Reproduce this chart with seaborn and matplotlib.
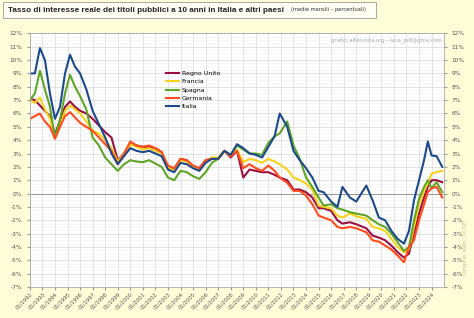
import numpy as np
import pandas as pd
import seaborn as sns
import matplotlib.pyplot as plt
from matplotlib.patches import Rectangle
from matplotlib.ticker import MultipleLocator, FuncFormatter

# dates as decimal years
dates = [1992.0, 1992.4, 1992.8, 1993.2, 1993.6, 1994.0, 1994.4, 1994.8, 1995.2, 1995.6,
         1996.0, 1996.5, 1997.0, 1997.5, 1998.0, 1998.5, 1999.0, 1999.5, 2000.0, 2000.5,
         2001.0, 2001.5, 2002.0, 2002.5, 2003.0, 2003.5, 2004.0, 2004.5, 2005.0, 2005.5,
         2006.0, 2006.5, 2007.0, 2007.5, 2008.0, 2008.5, 2009.0, 2009.5, 2010.0, 2010.5,
         2011.0, 2011.5, 2011.9, 2012.5, 2013.0, 2013.5, 2014.0, 2014.5, 2015.0, 2015.4,
         2016.0, 2016.5, 2016.9, 2017.5, 2018.0, 2018.8, 2019.3, 2019.8, 2020.3, 2020.8,
         2021.3, 2021.8, 2022.2, 2022.6, 2023.0, 2023.4, 2023.7, 2024.0, 2024.4, 2024.85]

regno_unito = [7.1, 7.0, 6.6, 6.2, 5.8, 4.4, 5.5, 6.5, 6.9, 6.5,
               6.2, 6.0, 5.6, 5.1, 4.6, 4.2, 2.5, 3.0, 3.7, 3.6,
               3.5, 3.5, 3.4, 3.1, 1.9, 1.8, 2.6, 2.5, 2.0, 1.9,
               2.5, 2.6, 2.6, 3.2, 2.7, 3.2, 1.2, 1.8, 1.7, 1.6,
               1.6, 1.4, 1.2, 1.0, 0.3, 0.3, 0.1, -0.3, -1.1, -1.1,
               -1.3, -2.0, -2.25, -2.15, -2.3, -2.6, -3.15, -3.3, -3.5, -3.9,
               -4.4, -4.8, -4.5, -3.0, -1.5, -0.3, 0.5, 1.0, 1.0, 0.85]

francia = [7.0, 6.8, 7.2, 6.3, 5.6, 4.2, 5.0, 6.2, 6.6, 6.3,
           6.0, 5.4, 4.7, 4.5, 4.0, 3.4, 2.4, 3.0, 3.7, 3.5,
           3.3, 3.4, 3.2, 3.0, 2.0, 1.7, 2.5, 2.4, 2.0, 1.8,
           2.4, 2.7, 2.7, 3.2, 2.8, 3.3, 2.35, 2.6, 2.5, 2.3,
           2.6, 2.4, 2.2, 1.8, 1.2, 1.0, 0.75, 0.3, -0.9, -1.0,
           -1.1, -1.65, -1.8, -1.5, -1.7, -1.9, -2.5, -2.6, -2.8, -3.4,
           -4.0, -4.4, -4.2, -2.5, -0.8, 0.2, 0.75, 1.5, 1.6, 1.7]

spagna = [7.0, 7.5, 9.2, 7.8, 6.5, 4.2, 5.5, 7.5, 8.9, 8.0,
          7.3, 6.3, 4.2, 3.6, 2.7, 2.2, 1.7, 2.2, 2.5, 2.4,
          2.35, 2.5, 2.25, 2.0, 1.2, 1.0, 1.7, 1.6, 1.3, 1.1,
          1.6, 2.3, 2.6, 3.2, 2.9, 3.6, 3.3, 3.0, 3.0, 2.9,
          3.8, 4.3, 4.5, 5.4, 3.6, 2.6, 1.2, 0.5, -0.3, -0.9,
          -0.8, -1.1, -1.2, -1.4, -1.5, -1.65, -2.0, -2.3, -2.5, -3.0,
          -3.65, -4.3, -4.0, -2.0, -0.4, 0.5, 1.0, 0.4, 0.85, 0.1]

germania = [5.6, 5.8, 6.0, 5.4, 5.0, 4.1, 5.0, 5.8, 6.1, 5.7,
            5.3, 5.0, 4.7, 4.2, 3.7, 3.2, 2.2, 3.0, 3.9, 3.6,
            3.5, 3.6, 3.4, 3.1, 2.1, 1.9, 2.6, 2.5, 2.1, 1.9,
            2.5, 2.6, 2.6, 3.2, 2.8, 3.2, 1.9, 2.2, 1.9, 1.7,
            2.1, 1.7, 1.2, 0.8, 0.2, 0.2, -0.15, -0.8, -1.65, -1.8,
            -2.0, -2.5, -2.6, -2.5, -2.6, -2.9, -3.5, -3.6, -3.9, -4.2,
            -4.65, -5.15, -4.0, -3.5, -2.0, -0.8, 0.1, 0.4, 0.5, -0.3]

italia = [9.0, 9.0, 10.9, 10.0, 7.5, 5.6, 6.5, 9.0, 10.4, 9.5,
          9.0, 7.8, 6.2, 5.2, 4.2, 3.0, 2.2, 2.8, 3.4, 3.2,
          3.1, 3.2, 3.0, 2.8, 1.8, 1.6, 2.3, 2.2, 1.9, 1.7,
          2.3, 2.6, 2.6, 3.2, 2.9, 3.7, 3.4, 3.0, 2.9, 2.7,
          3.5, 4.3, 6.0, 5.0, 3.2, 2.5, 1.9, 1.2, 0.2, 0.1,
          -0.6, -1.0, 0.5, -0.3, -0.6, 0.6, -0.5, -1.8, -2.0, -2.8,
          -3.4, -3.75, -2.8, -0.5, 1.0, 2.5, 3.9, 2.85, 2.8, 2.0]

countries = ['Regno Unito', 'Francia', 'Spagna', 'Germania', 'Italia']
colors = ['#9b1040', '#f7d21c', '#5fa526', '#ff4b1e', '#1c4a8a']
years = list(range(1992, 2025))

series = [regno_unito, francia, spagna, germania, italia]
df = pd.concat([pd.DataFrame({'Data': dates, 'Tasso': s, 'Paese': c})
                for c, s in zip(countries, series)])

bg = '#fffcd8'
fig = plt.figure(figsize=(4.74, 3.18), dpi=100, facecolor=bg)
ax = fig.add_axes([0.063, 0.0975, 0.874, 0.7975])
ax.set_facecolor('white')

sns.lineplot(data=df, x='Data', y='Tasso', hue='Paese', hue_order=countries,
             palette=colors, linewidth=1.5, ax=ax)

ax.set_xlim(1992, 2025)
ax.set_ylim(-7, 12)
ax.set_xticks(years)
ax.set_xticklabels([f'01/{y}' for y in years], rotation=45, ha='right',
                   rotation_mode='anchor', fontsize=3.8, color='#555555')
ax.yaxis.set_major_locator(MultipleLocator(1))
ax.yaxis.set_minor_locator(MultipleLocator(0.25))
ax.yaxis.set_major_formatter(FuncFormatter(lambda v, p: f'{v:.0f}%'))
ax.tick_params(axis='y', labelsize=4.2, labelcolor='#555555', length=2,
               color='#999999', labelright=True, right=True)
ax.tick_params(axis='y', which='minor', length=0)
ax.tick_params(axis='x', length=2, color='#999999', pad=1)
ax.grid(True, which='major', color='#d6d6d6', linewidth=0.5)
ax.grid(True, which='minor', axis='y', color='#f0f0f0', linewidth=0.4)
ax.set_axisbelow(True)
ax.axhline(0, color='#888888', linewidth=0.6, zorder=1)
for s in ax.spines.values():
    s.set_color('#aaaaaa')
    s.set_linewidth(0.6)
ax.set_xlabel('')
ax.set_ylabel('')

leg = ax.legend(loc='upper left', bbox_to_anchor=(0.315, 0.875), frameon=False,
                fontsize=4.5, handlelength=2.1, labelspacing=0.47,
                handletextpad=0.4)
for line in leg.get_lines():
    line.set_linewidth(1.5)

ax.text(0.995, 0.985, 'grafici.altervista.org - luca_pdf@gmx.com',
        transform=ax.transAxes, ha='right', va='top', fontsize=3.8,
        color='#aaaaaa')

# title box
fig.patches.append(Rectangle((3 / 474, 1 - 18 / 318), 373 / 474, 16 / 318,
                             transform=fig.transFigure, facecolor='#fffef4',
                             edgecolor='#9a9a9a', linewidth=0.6))
fig.text(8 / 474, 1 - 10 / 318,
         'Tasso di interesse reale dei titoli pubblici a 10 anni in Italia e altri paesi',
         family='Liberation Sans', fontsize=5.9, fontweight='bold', color='#222222',
         ha='left', va='center')
fig.text(291 / 474, 1 - 10 / 318, '(medie mensili – percentuali)', fontsize=3.7,
         color='#333333', ha='left', va='center')
fig.text(0.982, 0.22, 'Origine dati: OCSE', rotation=90, fontsize=4.2,
         color='#c9c19a', ha='center', va='center')

fig.savefig('out.png', dpi=100, facecolor=bg)
